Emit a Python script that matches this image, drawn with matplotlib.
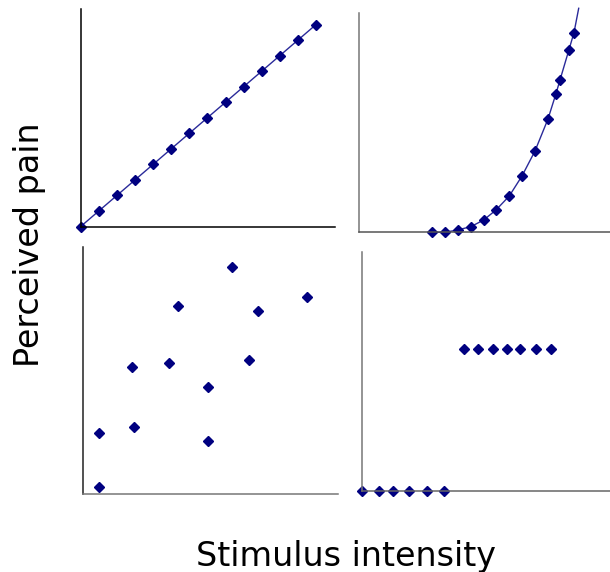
import matplotlib
matplotlib.use("Agg")
import matplotlib.pyplot as plt

# top-left: linear
lin_x = [0, 1, 2, 3, 4, 5, 6, 7, 8, 9, 10, 11, 12, 13]
lin_y = [0, 1, 2, 3, 4, 5, 6, 7, 8, 9, 10, 11, 12, 13]

# top-right: accelerating curve
acc_x = [7.33, 8.57, 9.87, 11.2, 12.47, 13.7, 15.03, 16.3, 17.6, 18.9, 19.7, 20.1, 21.0, 21.5]
acc_y = [0, 0, 0.23, 0.57, 1.23, 2.23, 3.63, 5.63, 8.13, 11.33, 13.87, 15.23, 18.27, 19.97]
acc_line_x = acc_x + [21.97]
acc_line_y = acc_y + [22.4]

# bottom-left: scatter
sc_x = [1.6, 1.6, 4.93, 5.13, 8.63, 9.5, 12.53, 12.53, 14.9, 16.6, 17.53, 22.43]
sc_y = [0.7, 6.07, 12.7, 6.67, 13.07, 18.8, 10.7, 5.33, 22.7, 13.37, 18.3, 19.7]

# bottom-right: step
step_lo_x = [0, 1.73, 3.13, 4.73, 6.47, 8.23]
step_lo_y = [0, 0, 0, 0, 0, 0]
step_hi_x = [10.2, 11.63, 13.1, 14.53, 15.83, 17.37, 18.9]
step_hi_y = [14.2, 14.2, 14.2, 14.2, 14.2, 14.2, 14.2]

navy = '#000080'
plt.rcParams['font.family'] = 'DejaVu Sans'
fig = plt.figure(figsize=(6.1, 5.72), dpi=100)

ax1 = fig.add_axes([0.1323, 0.604, 0.4169, 0.3802])
ax2 = fig.add_axes([0.5885, 0.5939, 0.4115, 0.3839])
ax3 = fig.add_axes([0.1356, 0.1364, 0.418, 0.4313])
ax4 = fig.add_axes([0.5934, 0.1421, 0.4066, 0.4168])

ax1.plot(lin_x, lin_y, color='#2a2a9a', linewidth=1, clip_on=False)
ax1.plot(lin_x, lin_y, 'D', color=navy, markersize=5, clip_on=False)
ax1.set_xlim(0, 14.05)
ax1.set_ylim(0, 14.0)

ax2.plot(acc_line_x, acc_line_y, color='#2a2a9a', linewidth=1, clip_on=False)
ax2.plot(acc_x, acc_y, 'D', color=navy, markersize=5, clip_on=False)
ax2.set_xlim(0, 25.1)
ax2.set_ylim(0, 21.96)

ax3.plot(sc_x, sc_y, 'D', color=navy, markersize=5, clip_on=False)
ax3.set_xlim(0, 25.5)
ax3.set_ylim(0, 24.67)

ax4.plot(step_lo_x, step_lo_y, 'D', color=navy, markersize=5, clip_on=False)
ax4.plot(step_hi_x, step_hi_y, 'D', color=navy, markersize=5, clip_on=False)
ax4.set_xlim(0, 24.8)
ax4.set_ylim(0, 23.84)

spine_cols = {ax1: ('black', 'black'), ax2: ('#777777', '#555555'),
              ax3: ('#222222', '#777777'), ax4: ('#777777', '#666666')}
for ax, (lc, bc) in spine_cols.items():
    ax.spines['top'].set_visible(False)
    ax.spines['right'].set_visible(False)
    ax.spines['left'].set_color(lc)
    ax.spines['bottom'].set_color(bc)
    ax.spines['left'].set_linewidth(1.1)
    ax.spines['bottom'].set_linewidth(1.1)
    ax.set_xticks([])
    ax.set_yticks([])
    ax.patch.set_alpha(0)

fig.text(0.049, 0.573, 'Perceived pain', rotation=90, ha='center', va='center', fontsize=24)
fig.text(0.567, 0.011, 'Stimulus intensity', ha='center', va='baseline', fontsize=24)

fig.savefig('out.png', dpi=100)
